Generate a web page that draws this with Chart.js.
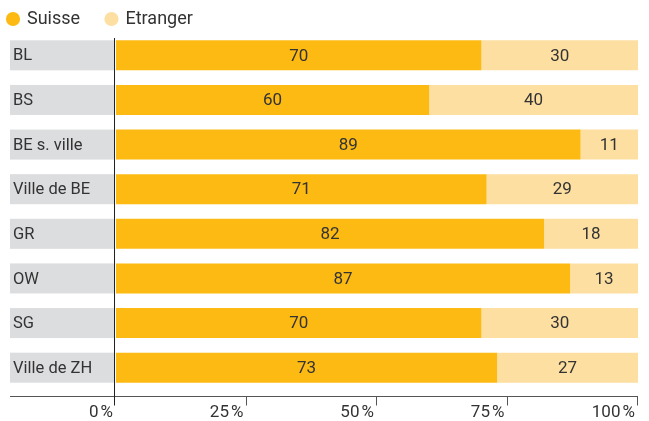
<!DOCTYPE html>
<html>
<head>
<meta charset="utf-8">
<script src="https://cdn.jsdelivr.net/npm/chart.js@4"></script>
<style>
  html, body { margin: 0; padding: 0; background: #fff; }
  #wrap { width: 649px; height: 421px; }
</style>
</head>
<body>
<div id="wrap"><canvas id="chart"></canvas></div>
<script>
// categories (top to bottom) and shares in %
const regions = ["BL", "BS", "BE s. ville", "Ville de BE", "GR", "OW", "SG", "Ville de ZH"];
const suisse = [70, 60, 89, 71, 82, 87, 70, 73];
const etranger = [30, 40, 11, 29, 18, 13, 30, 27];
const xTicks = [0, 25, 50, 75, 100];

const FONT = "Roboto";
const TEXT = "#333333";

// grey label boxes, category names, values and the axes
const decorations = {
    id: "decorations",
    beforeDatasetsDraw(chart) {
        const ctx = chart.ctx;
        const yScale = chart.scales.y;
        const bars = chart.getDatasetMeta(0).data;
        ctx.save();
        regions.forEach((name, i) => {
            const py = yScale.getPixelForValue(i);
            const h = bars[i].height;
            ctx.fillStyle = "#dcdddf";
            ctx.fillRect(10, py - h / 2, chart.chartArea.left - 12, h);
            ctx.fillStyle = TEXT;
            ctx.font = "16.5px " + FONT;
            ctx.textBaseline = "middle";
            ctx.textAlign = "left";
            ctx.fillText(name, 13, py + 1);
        });
        ctx.restore();
    },
    afterDatasetsDraw(chart) {
        const ctx = chart.ctx;
        const area = chart.chartArea;
        const xScale = chart.scales.x;
        ctx.save();
        // values in the middle of each segment
        ctx.fillStyle = TEXT;
        ctx.font = "17px " + FONT;
        ctx.textAlign = "center";
        ctx.textBaseline = "middle";
        chart.data.datasets.forEach((ds, di) => {
            chart.getDatasetMeta(di).data.forEach((bar, i) => {
                const cx = (bar.x + bar.base) / 2;
                ctx.fillText(String(ds.data[i]), cx, bar.y + 1);
            });
        });
        // x axis line, tick marks and tick labels
        const axisY = Math.round(area.bottom + 6) + 0.5;
        ctx.strokeStyle = "#555555";
        ctx.lineWidth = 1;
        ctx.beginPath();
        ctx.moveTo(10, axisY);
        ctx.lineTo(area.right, axisY);
        xTicks.slice(1).forEach(v => {
            const px = Math.round(xScale.getPixelForValue(v)) - 0.5;
            ctx.moveTo(px, axisY);
            ctx.lineTo(px, axisY + 9);
        });
        ctx.stroke();
        ctx.textAlign = "right";
        ctx.textBaseline = "alphabetic";
        xTicks.forEach(v => {
            const px = xScale.getPixelForValue(v);
            ctx.fillText(v + "\u202F%", px - 3, axisY + 20);
        });
        // y axis line
        ctx.strokeStyle = "#222222";
        ctx.beginPath();
        const lx = Math.round(area.left) - 1.5;
        ctx.moveTo(lx, area.top + 5);
        ctx.lineTo(lx, axisY + 9);
        ctx.stroke();
        ctx.restore();
    }
};

new Chart(document.getElementById("chart"), {
    type: "bar",
    data: {
        labels: regions,
        datasets: [
            {
                label: "Suisse",
                data: suisse,
                backgroundColor: "#fcba12",
                borderWidth: 0,
                barPercentage: 0.673,
                categoryPercentage: 1
            },
            {
                label: "Etranger",
                data: etranger,
                backgroundColor: "#fddfa1",
                borderWidth: 0,
                barPercentage: 0.673,
                categoryPercentage: 1
            }
        ]
    },
    options: {
        indexAxis: "y",
        responsive: true,
        maintainAspectRatio: false,
        animation: false,
        layout: { padding: { left: 0, right: 11, top: 2, bottom: 31 } },
        plugins: {
            legend: {
                position: "top",
                align: "start",
                maxHeight: 31,
                labels: {
                    usePointStyle: true,
                    pointStyle: "circle",
                    boxWidth: 10,
                    boxHeight: 10,
                    padding: 8,
                    color: TEXT,
                    font: { family: FONT, size: 18 },
                    generateLabels: chart => {
                        const items = Chart.defaults.plugins.legend.labels.generateLabels(chart);
                        items.forEach(it => { it.text = it.text + "\u2003"; });
                        return items;
                    }
                }
            },
            tooltip: { enabled: false }
        },
        scales: {
            x: {
                stacked: true,
                min: 0,
                max: 100,
                grid: { display: false, drawTicks: false },
                border: { display: false },
                ticks: { display: false }
            },
            y: {
                stacked: true,
                grid: { display: false, drawTicks: false },
                border: { display: false },
                ticks: { display: false },
                afterFit: scale => { scale.width = 116; }
            }
        }
    },
    plugins: [decorations]
});
</script>
</body>
</html>
